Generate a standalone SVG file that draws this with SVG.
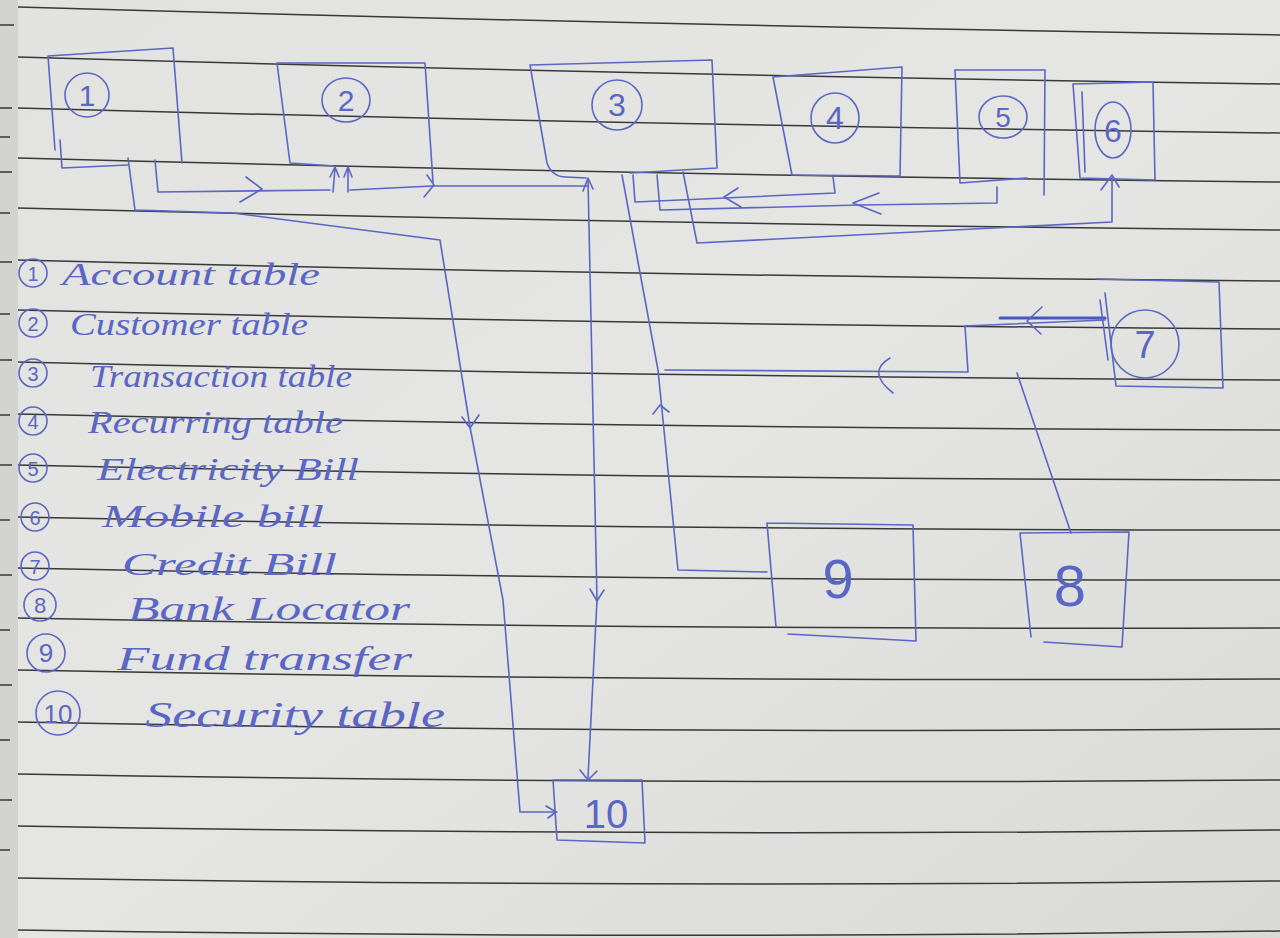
<svg xmlns="http://www.w3.org/2000/svg" width="1280" height="938" viewBox="0 0 1280 938">
<defs>
<style>
.ink{fill:none;stroke:#5a66c4;stroke-width:1.6;stroke-linecap:round;stroke-linejoin:round}
.inkb{fill:none;stroke:#4a58c0;stroke-width:3;stroke-linecap:round}
.rule{fill:none;stroke:#38383a;stroke-width:1.5}
.hand{font-family:"Liberation Serif","DejaVu Serif",serif;font-style:italic;fill:#5a66c4}
.num{font-family:"Liberation Sans","DejaVu Sans",sans-serif;fill:#5a66c4;text-anchor:middle}
</style>
<linearGradient id="paper" x1="0" y1="0" x2="1" y2="1">
<stop offset="0" stop-color="#e2e2e0"/>
<stop offset="0.5" stop-color="#e5e5e3"/>
<stop offset="1" stop-color="#d9d9d7"/>
</linearGradient>
</defs>
<rect width="1280" height="938" fill="url(#paper)"/>
<rect width="18" height="938" fill="#d3d3d1"/>
<g id="ruling">
<path class="rule" d="M18,7 Q640,25 1280,35"/>
<path class="rule" d="M18,57 Q640,75 1280,84"/>
<path class="rule" d="M18,108 Q640,125 1280,133"/>
<path class="rule" d="M18,158 Q640,175 1280,182"/>
<path class="rule" d="M18,208 Q640,224 1280,230"/>
<path class="rule" d="M18,260 Q640,276 1280,281"/>
<path class="rule" d="M18,310 Q640,325 1280,329"/>
<path class="rule" d="M18,362 Q640,377 1280,380"/>
<path class="rule" d="M18,414 Q640,428 1280,430"/>
<path class="rule" d="M18,465 Q640,479 1280,480"/>
<path class="rule" d="M18,517 Q640,530 1280,530"/>
<path class="rule" d="M18,568 Q640,581 1280,580"/>
<path class="rule" d="M18,618 Q640,630 1280,628"/>
<path class="rule" d="M18,670 Q640,682 1280,679"/>
<path class="rule" d="M18,722 Q640,734 1280,729"/>
<path class="rule" d="M18,774 Q640,785 1280,780"/>
<path class="rule" d="M18,826 Q640,837 1280,830"/>
<path class="rule" d="M18,878 Q640,888 1280,881"/>
<path class="rule" d="M18,930 Q640,940 1280,931"/>
<path class="rule" d="M0,25 H14 M0,108 H12 M0,137 H10 M0,172 H12 M0,213 H10 M0,262 H12 M0,314 H10 M0,360 H12 M0,415 H10 M0,465 H12 M0,520 H10 M0,575 H12 M0,630 H10 M0,685 H12 M0,740 H10 M0,800 H12 M0,850 H10"/>
</g>
<g id="connectors">
<path class="ink" d="M128,158 L135,210 L233,213 L440,240 L470,427 L503,600 L520,812 L557,812"/>
<path class="ink" d="M462,417 L470,428 L479,415"/>
<path class="ink" d="M546,806 L556,812 M548,818 L556,812"/>
<path class="ink" d="M155,160 L158,192 L330,190"/>
<path class="ink" d="M246,177 L262,189 L240,202"/>
<path class="ink" d="M333,192 L335,168 M330,177 L335,167 L339,177"/>
<path class="ink" d="M348,192 L348,168 M344,177 L348,167 L352,177"/>
<path class="ink" d="M350,190 L432,186 L588,186"/>
<path class="ink" d="M427,175 L434,185 L424,197"/>
<path class="ink" d="M583,191 L588,178 L593,189"/>
<path class="ink" d="M588,180 L597,600 L588,778"/>
<path class="ink" d="M590,589 L597,601 L604,590"/>
<path class="ink" d="M580,770 L588,780 L597,771"/>
<path class="ink" d="M622,175 L638,262 L658,370 L678,570 L767,572"/>
<path class="ink" d="M653,414 L660,405 L669,412"/>
<path class="ink" d="M1105,320 L965,326 L968,372 L665,370"/>
<path class="inkb" d="M1000,318 L1105,318"/>
<path class="ink" d="M1042,307 L1027,321 L1041,334"/>
<path class="ink" d="M890,358 Q866,372 893,393"/>
<path class="ink" d="M1071,533 L1017,373"/>
<path class="ink" d="M833,177 L835,193 L635,202 L633,175"/>
<path class="ink" d="M738,188 L724,197 L741,207"/>
<path class="ink" d="M997,187 L997,203 L860,205 L660,210 L657,175"/>
<path class="ink" d="M879,193 L853,203 L881,214"/>
<path class="ink" d="M683,172 L697,243 L1112,222 L1112,178"/>
<path class="ink" d="M1101,190 L1112,175 L1119,187"/>
</g>
<g id="node1">
<path class="ink" d="M48,56 L173,48 L182,163 M128,165 L62,168 L60,140 M55,150 L48,56"/>
<circle class="ink" cx="87" cy="95" r="22"/>
<text class="num" x="87" y="106" font-size="30">1</text>
</g>
<g id="node2">
<path class="ink" d="M277,63 L425,63 L433,182 M277,63 L290,163 L334,166"/>
<ellipse class="ink" cx="346" cy="100" rx="24" ry="22"/>
<text class="num" x="346" y="111" font-size="30">2</text>
</g>
<g id="node3">
<path class="ink" d="M530,65 L712,60 L717,168 L630,173 M530,65 L547,163 Q552,177 566,177 L586,178"/>
<circle class="ink" cx="617" cy="105" r="25"/>
<text class="num" x="617" y="116" font-size="32">3</text>
</g>
<g id="node4">
<path class="ink" d="M773,77 L902,67 L900,176 L792,175 L773,77"/>
<ellipse class="ink" cx="835" cy="118" rx="24" ry="25"/>
<text class="num" x="835" y="129" font-size="32">4</text>
</g>
<g id="node5">
<path class="ink" d="M955,70 L1045,70 L1044,195 M955,70 L960,183 L1027,178"/>
<ellipse class="ink" cx="1003" cy="117" rx="24" ry="21"/>
<text class="num" x="1003" y="127" font-size="28">5</text>
</g>
<g id="node6">
<path class="ink" d="M1073,84 L1153,82 L1155,180 L1080,178 L1073,84 M1082,92 L1085,172"/>
<ellipse class="ink" cx="1113" cy="130" rx="18" ry="28"/>
<text class="num" x="1113" y="142" font-size="32">6</text>
</g>
<g id="node7">
<path class="ink" d="M1097,279 L1219,282 L1223,388 L1116,386 L1105,293 M1100,300 L1108,360"/>
<circle class="ink" cx="1145" cy="344" r="34"/>
<text class="num" x="1145" y="358" font-size="38">7</text>
</g>
<g id="node8">
<path class="ink" d="M1020,533 L1129,532 L1122,647 L1044,642 M1020,533 L1031,637"/>
<text class="num" x="1070" y="606" font-size="58">8</text>
</g>
<g id="node9">
<path class="ink" d="M767,523 L913,525 L916,641 L788,634 M767,523 L776,627"/>
<text class="num" x="838" y="598" font-size="56">9</text>
</g>
<g id="node10">
<path class="ink" d="M553,780 L642,780 L645,843 L557,840 L553,780"/>
<text class="num" x="606" y="828" font-size="40">10</text>
</g>
<g id="legend">
<circle class="ink" cx="33" cy="273" r="14"/><text class="num" x="33" y="281" font-size="20">1</text>
<text class="hand" x="62" y="285" font-size="32" textLength="258" lengthAdjust="spacingAndGlyphs">Account table</text>
<circle class="ink" cx="33" cy="323" r="14"/><text class="num" x="33" y="331" font-size="20">2</text>
<text class="hand" x="70" y="335" font-size="32" textLength="238" lengthAdjust="spacingAndGlyphs">Customer table</text>
<circle class="ink" cx="33" cy="373" r="14"/><text class="num" x="33" y="381" font-size="20">3</text>
<text class="hand" x="90" y="387" font-size="32" textLength="262" lengthAdjust="spacingAndGlyphs">Transaction table</text>
<circle class="ink" cx="33" cy="421" r="14"/><text class="num" x="33" y="429" font-size="20">4</text>
<text class="hand" x="88" y="433" font-size="32" textLength="255" lengthAdjust="spacingAndGlyphs">Recurring table</text>
<circle class="ink" cx="33" cy="468" r="14"/><text class="num" x="33" y="476" font-size="20">5</text>
<text class="hand" x="97" y="480" font-size="32" textLength="262" lengthAdjust="spacingAndGlyphs">Electricity Bill</text>
<circle class="ink" cx="35" cy="517" r="14"/><text class="num" x="35" y="525" font-size="20">6</text>
<text class="hand" x="102" y="527" font-size="32" textLength="222" lengthAdjust="spacingAndGlyphs">Mobile bill</text>
<circle class="ink" cx="35" cy="566" r="14"/><text class="num" x="35" y="574" font-size="20">7</text>
<text class="hand" x="122" y="575" font-size="32" textLength="215" lengthAdjust="spacingAndGlyphs">Credit Bill</text>
<circle class="ink" cx="40" cy="605" r="16"/><text class="num" x="40" y="613" font-size="22">8</text>
<text class="hand" x="128" y="620" font-size="34" textLength="282" lengthAdjust="spacingAndGlyphs">Bank Locator</text>
<circle class="ink" cx="46" cy="653" r="19"/><text class="num" x="46" y="662" font-size="26">9</text>
<text class="hand" x="117" y="670" font-size="34" textLength="295" lengthAdjust="spacingAndGlyphs">Fund transfer</text>
<circle class="ink" cx="58" cy="713" r="22"/><text class="num" x="58" y="723" font-size="26">10</text>
<text class="hand" x="145" y="727" font-size="36" textLength="300" lengthAdjust="spacingAndGlyphs">Security table</text>
</g>
</svg>
